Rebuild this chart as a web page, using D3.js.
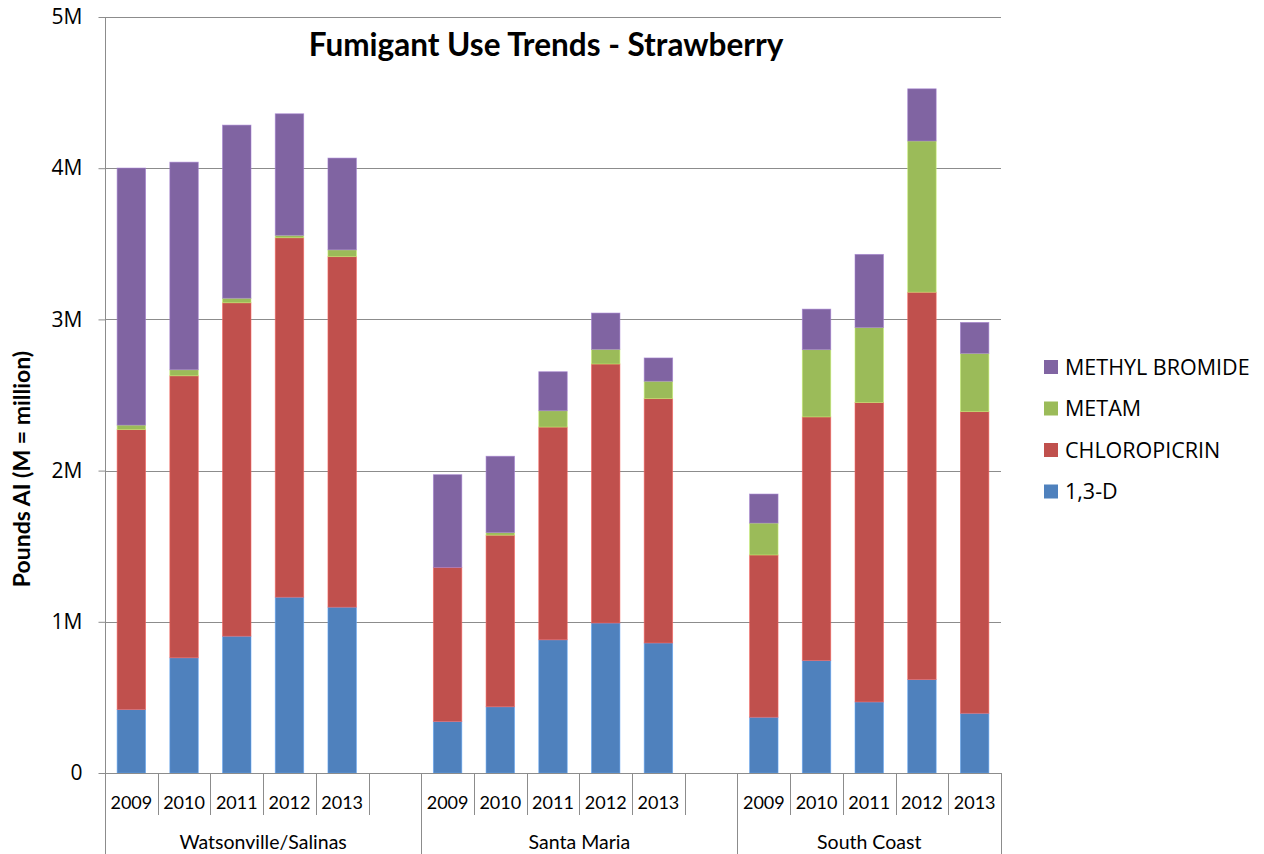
<!DOCTYPE html>
<html>
<head>
<meta charset="utf-8">
<script src="https://cdn.jsdelivr.net/npm/d3@7"></script>
<style>
  html, body { margin: 0; padding: 0; background: #fff; }
  svg { display: block; }
</style>
</head>
<body>
<svg id="chart" width="1264" height="854"></svg>
<script>
// ---------- data (values in millions of pounds AI) ----------
const regions = ["Watsonville/Salinas", "Santa Maria", "South Coast"];
const years = ["2009", "2010", "2011", "2012", "2013"];
const seriesNames = ["1,3-D", "CHLOROPICRIN", "METAM", "METHYL BROMIDE"];
const seriesColors = ["#4F81BD", "#C0504D", "#9BBB59", "#8064A2"];

const d13 = [0.420, 0.762, 0.905, 1.163, 1.097,
             0.341, 0.438, 0.881, 0.992, 0.860,
             0.369, 0.744, 0.470, 0.618, 0.395];
const chloropicrin = [1.851, 1.865, 2.205, 2.377, 2.318,
                      1.019, 1.135, 1.407, 1.713, 1.616,
                      1.073, 1.611, 1.980, 2.562, 1.995];
const metam = [0.030, 0.040, 0.030, 0.016, 0.045,
               0.000, 0.017, 0.108, 0.097, 0.115,
               0.211, 0.445, 0.496, 1.000, 0.385];
const methylBromide = [1.700, 1.373, 1.145, 0.804, 0.607,
                       0.613, 0.505, 0.258, 0.240, 0.154,
                       0.192, 0.268, 0.484, 0.345, 0.205];

const yTicks = [0, 1, 2, 3, 4, 5];
const yTickLabels = ["0", "1M", "2M", "3M", "4M", "5M"];
const title = "Fumigant Use Trends - Strawberry";
const yTitle = "Pounds AI (M = million)";

// ---------- build rows ----------
const seriesArrays = [d13, chloropicrin, metam, methylBromide];
const rows = [];
regions.forEach((r, ri) => {
  years.forEach((y, yi) => {
    const idx = ri * years.length + yi;
    const row = { key: r + "|" + y, region: r, year: y };
    seriesNames.forEach((s, si) => row[s] = seriesArrays[si][idx]);
    rows.push(row);
  });
});
// category slots (a blank slot separates the regions)
const slots = regions.flatMap((r, ri) => {
  const k = years.map(y => r + "|" + y);
  if (ri < regions.length - 1) k.push(r + "|gap");
  return k;
});

// ---------- layout ----------
const plot = { left: 105, right: 1001, top: 17, bottom: 773 };
const svg = d3.select("#chart");
const fontMain = "'Open Sans', 'Noto Sans', sans-serif";
const fontCal = "Lato, 'Open Sans', sans-serif";

const x = d3.scaleBand().domain(slots).range([plot.left, plot.right])
  .paddingInner(0.46).paddingOuter(0.23);
const step = x.step();
const slotStart = k => x(k) - step * 0.23;
const y = d3.scaleLinear().domain([0, 5]).range([plot.bottom, plot.top]);

// gridlines
svg.append("g").selectAll("line").data(yTicks.filter(t => t > 0)).join("line")
  .attr("x1", plot.left).attr("x2", plot.right)
  .attr("y1", d => Math.round(y(d)) + 0.5).attr("y2", d => Math.round(y(d)) + 0.5)
  .attr("stroke", "#8c8c8c").attr("stroke-width", 1);

// stacked bars
const stack = d3.stack().keys(seriesNames);
const stacked = stack(rows);
const color = d3.scaleOrdinal().domain(seriesNames).range(seriesColors);
svg.append("g").selectAll("g").data(stacked).join("g")
  .attr("fill", d => color(d.key))
  .attr("stroke", d => d3.color(color(d.key)).brighter(0.7))
  .attr("stroke-opacity", 0.7)
  .attr("stroke-width", 0.8)
  .selectAll("rect").data(d => d.filter(p => p[1] - p[0] > 0)).join("rect")
  .attr("x", d => x(d.data.key))
  .attr("width", x.bandwidth())
  .attr("y", d => y(d[1]))
  .attr("height", d => y(d[0]) - y(d[1]));

// y axis
const yAxis = d3.axisLeft(y).tickValues(yTicks)
  .tickFormat((d, i) => yTickLabels[i]).tickSize(7).tickPadding(16);
const gy = svg.append("g").attr("transform", `translate(${plot.left + 0.5},0)`).call(yAxis);
gy.select(".domain").remove();
gy.selectAll(".tick line").attr("stroke", "#8c8c8c");
gy.selectAll(".tick text").attr("font-family", fontMain).attr("font-size", 21)
  .attr("fill", "#000");
svg.append("line").attr("x1", plot.left + 0.5).attr("x2", plot.left + 0.5)
  .attr("y1", plot.top).attr("y2", 854).attr("stroke", "#8c8c8c");

// x axis baseline
svg.append("line").attr("x1", plot.left).attr("x2", plot.right)
  .attr("y1", plot.bottom + 0.5).attr("y2", plot.bottom + 0.5).attr("stroke", "#8c8c8c");

// year separators (short)
const gx = svg.append("g");
slots.forEach(k => {
  const s = slotStart(k);
  gx.append("line").attr("x1", Math.round(s) + 0.5).attr("x2", Math.round(s) + 0.5)
    .attr("y1", plot.bottom).attr("y2", 815).attr("stroke", "#8c8c8c");
});
// region separators (long)
const regionEdges = regions.map(r => slotStart(r + "|" + years[0]));
regionEdges.push(plot.right);
regionEdges.forEach(e => {
  gx.append("line").attr("x1", Math.round(e) + 0.5).attr("x2", Math.round(e) + 0.5)
    .attr("y1", plot.bottom).attr("y2", 854).attr("stroke", "#8c8c8c");
});
// year labels
gx.selectAll("text.year").data(rows).join("text").attr("class", "year")
  .attr("x", d => x(d.key) + x.bandwidth() / 2).attr("y", 809)
  .attr("text-anchor", "middle").attr("font-family", fontCal).attr("font-size", 18)
  .attr("fill", "#000").text(d => d.year);
// region labels
gx.selectAll("text.region").data(regions).join("text").attr("class", "region")
  .attr("x", (r, i) => (regionEdges[i] + regionEdges[i + 1]) / 2).attr("y", 849)
  .attr("text-anchor", "middle").attr("font-family", fontCal).attr("font-size", 19.5)
  .attr("fill", "#000").text(d => d);

// title
svg.append("text").attr("x", 546).attr("y", 56).attr("text-anchor", "middle")
  .attr("font-family", fontCal).attr("font-weight", "bold").attr("font-size", 31.5)
  .attr("fill", "#000").text(title);

// y title
svg.append("text").attr("transform", "translate(30,469) rotate(-90)")
  .attr("text-anchor", "middle").attr("font-family", fontCal).attr("font-weight", "bold")
  .attr("font-size", 23).attr("fill", "#000").text(yTitle);

// legend
const legendItems = seriesNames.slice().reverse();
const lg = svg.append("g").attr("transform", "translate(1044,367)");
const li = lg.selectAll("g").data(legendItems).join("g")
  .attr("transform", (d, i) => `translate(0,${i * 41.5})`);
li.append("rect").attr("x", 0).attr("y", -7).attr("width", 14).attr("height", 14)
  .attr("fill", d => color(d));
li.append("text").attr("x", 21).attr("y", 0).attr("dy", "0.36em")
  .attr("font-family", fontMain).attr("font-size", 21.5).attr("fill", "#000").text(d => d);
</script>
</body>
</html>
